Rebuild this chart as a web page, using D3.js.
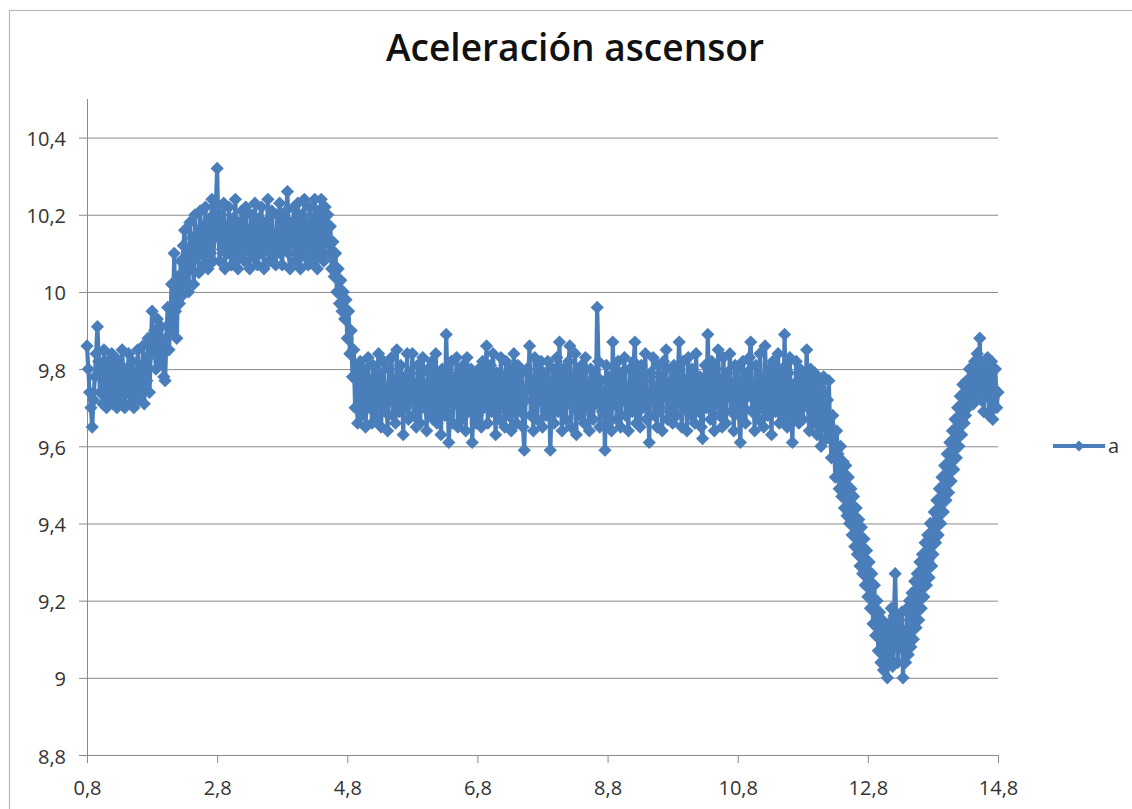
<!DOCTYPE html>
<html>
<head>
<meta charset="utf-8">
<script src="https://cdn.jsdelivr.net/npm/d3@7"></script>
<style>
  html, body { margin: 0; padding: 0; background: #fff; }
  svg { display: block; }
  text { font-family: "Open Sans", "Noto Sans", "DejaVu Sans", sans-serif; }
</style>
</head>
<body>
<svg id="chart" width="1132" height="809"></svg>
<script>
// ---- chart content ----
const chartTitle = "Aceleración ascensor";
const seriesName = "a";
const xTicks = [0.8, 2.8, 4.8, 6.8, 8.8, 10.8, 12.8, 14.8];
const yTicks = [8.8, 9, 9.2, 9.4, 9.6, 9.8, 10, 10.2, 10.4];
const xDomain = [0.8, 14.8];
const yDomain = [8.8, 10.5];

// accelerometer sampling clock (s)
const sampleStart = 0.8;
const samplePeriod = 0.02;

// measured acceleration (m/s²), one row per half second of recording
const accel = [
  // 0.80 – 1.78 s : at rest
  9.86, 9.80, 9.74, 9.70, 9.65, 9.72, 9.78, 9.84, 9.91, 9.82, 9.74, 9.80, 9.71, 9.85, 9.76, 9.70, 9.82, 9.73, 9.79, 9.84, 9.71, 9.77, 9.83, 9.70, 9.75,
  9.81, 9.72, 9.85, 9.78, 9.70, 9.80, 9.74, 9.84, 9.71, 9.77, 9.82, 9.70, 9.79, 9.73, 9.85, 9.72, 9.80, 9.75, 9.86, 9.71, 9.82, 9.77, 9.88, 9.74, 9.84,
  // 1.80 – 2.78 s : starting upwards
  9.95, 9.84, 9.90, 9.80, 9.93, 9.86, 9.82, 9.91, 9.84, 9.78, 9.77, 9.88, 9.96, 9.85, 9.92, 10.02, 9.90, 10.10, 9.95, 9.88, 10.04, 9.97, 10.08, 9.99, 10.12,
  10.16, 10.02, 10.10, 10.00, 10.18, 10.06, 10.14, 10.02, 10.20, 10.09, 10.15, 10.05, 10.21, 10.10, 10.17, 10.07, 10.22, 10.12, 10.06, 10.19, 10.10, 10.24, 10.08, 10.16, 10.22,
  // 2.80 – 3.78 s
  10.32, 10.14, 10.08, 10.20, 10.11, 10.23, 10.06, 10.17, 10.10, 10.22, 10.13, 10.07, 10.19, 10.09, 10.24, 10.12, 10.06, 10.18, 10.10, 10.21, 10.14, 10.08, 10.22, 10.11, 10.16,
  10.06, 10.20, 10.12, 10.09, 10.23, 10.15, 10.07, 10.19, 10.10, 10.22, 10.13, 10.06, 10.18, 10.11, 10.24, 10.08, 10.16, 10.21, 10.09, 10.14, 10.07, 10.20, 10.12, 10.23, 10.10,
  // 3.80 – 4.78 s
  10.07, 10.19, 10.12, 10.21, 10.26, 10.10, 10.06, 10.18, 10.13, 10.22, 10.08, 10.16, 10.23, 10.10, 10.06, 10.20, 10.12, 10.24, 10.09, 10.17, 10.07, 10.22, 10.11, 10.19, 10.08,
  10.24, 10.13, 10.06, 10.21, 10.10, 10.24, 10.12, 10.08, 10.22, 10.14, 10.20, 10.10, 10.17, 10.06, 10.13, 10.04, 10.10, 10.00, 10.06, 9.97, 10.03, 9.95, 10.00, 9.93, 9.98,
  // 4.80 – 5.78 s : constant speed
  9.88, 9.95, 9.84, 9.90, 9.78, 9.85, 9.70, 9.80, 9.66, 9.76, 9.82, 9.68, 9.74, 9.80, 9.65, 9.72, 9.83, 9.70, 9.77, 9.66, 9.81, 9.73, 9.67, 9.79, 9.84,
  9.71, 9.65, 9.76, 9.82, 9.69, 9.74, 9.64, 9.80, 9.72, 9.83, 9.68, 9.77, 9.66, 9.85, 9.73, 9.69, 9.81, 9.75, 9.63, 9.78, 9.70, 9.84, 9.67, 9.79, 9.72,
  // 5.80 – 6.78 s
  9.84, 9.68, 9.76, 9.65, 9.81, 9.72, 9.66, 9.79, 9.83, 9.70, 9.75, 9.64, 9.80, 9.69, 9.77, 9.82, 9.67, 9.73, 9.84, 9.66, 9.78, 9.71, 9.63, 9.80, 9.74,
  9.68, 9.89, 9.75, 9.61, 9.70, 9.82, 9.66, 9.77, 9.72, 9.83, 9.65, 9.79, 9.70, 9.67, 9.81, 9.74, 9.64, 9.83, 9.69, 9.76, 9.80, 9.61, 9.71, 9.78, 9.66,
  // 6.80 – 7.78 s
  9.68, 9.80, 9.73, 9.65, 9.82, 9.70, 9.77, 9.86, 9.66, 9.74, 9.81, 9.69, 9.84, 9.72, 9.63, 9.79, 9.75, 9.67, 9.83, 9.70, 9.78, 9.65, 9.82, 9.73, 9.68,
  9.80, 9.64, 9.76, 9.84, 9.71, 9.66, 9.81, 9.74, 9.69, 9.79, 9.65, 9.59, 9.72, 9.80, 9.75, 9.86, 9.68, 9.77, 9.64, 9.83, 9.71, 9.67, 9.80, 9.74, 9.82,
  // 7.80 – 8.78 s
  9.65, 9.79, 9.72, 9.68, 9.82, 9.74, 9.59, 9.70, 9.80, 9.66, 9.77, 9.83, 9.69, 9.87, 9.73, 9.64, 9.80, 9.71, 9.67, 9.78, 9.82, 9.86, 9.65, 9.75, 9.70,
  9.84, 9.63, 9.79, 9.72, 9.68, 9.81, 9.74, 9.66, 9.83, 9.70, 9.76, 9.64, 9.80, 9.73, 9.67, 9.78, 9.71, 9.96, 9.82, 9.65, 9.77, 9.69, 9.74, 9.59, 9.81,
  // 8.80 – 9.78 s
  9.66, 9.78, 9.70, 9.64, 9.87, 9.73, 9.80, 9.67, 9.82, 9.71, 9.65, 9.79, 9.75, 9.83, 9.68, 9.72, 9.64, 9.80, 9.76, 9.69, 9.82, 9.87, 9.66, 9.74, 9.79,
  9.65, 9.81, 9.70, 9.77, 9.84, 9.67, 9.73, 9.61, 9.79, 9.72, 9.83, 9.68, 9.75, 9.65, 9.81, 9.70, 9.78, 9.64, 9.82, 9.73, 9.85, 9.67, 9.76, 9.69, 9.80,
  // 9.80 – 10.78 s
  9.66, 9.81, 9.72, 9.68, 9.79, 9.87, 9.74, 9.65, 9.82, 9.70, 9.77, 9.64, 9.83, 9.71, 9.68, 9.80, 9.75, 9.66, 9.84, 9.72, 9.69, 9.78, 9.65, 9.62, 9.76,
  9.81, 9.70, 9.89, 9.73, 9.67, 9.82, 9.74, 9.64, 9.80, 9.71, 9.85, 9.68, 9.77, 9.65, 9.83, 9.72, 9.66, 9.79, 9.74, 9.84, 9.69, 9.76, 9.64, 9.81, 9.71,
  // 10.80 – 11.78 s
  9.80, 9.68, 9.61, 9.75, 9.82, 9.70, 9.66, 9.79, 9.73, 9.83, 9.87, 9.69, 9.76, 9.64, 9.81, 9.72, 9.67, 9.84, 9.70, 9.77, 9.65, 9.86, 9.74, 9.68, 9.80,
  9.71, 9.63, 9.82, 9.75, 9.69, 9.78, 9.84, 9.66, 9.73, 9.80, 9.67, 9.89, 9.72, 9.65, 9.79, 9.83, 9.70, 9.61, 9.76, 9.68, 9.82, 9.74, 9.66, 9.80, 9.71,
  // 11.80 – 12.78 s : braking
  9.67, 9.78, 9.72, 9.85, 9.70, 9.64, 9.80, 9.74, 9.66, 9.79, 9.71, 9.63, 9.77, 9.68, 9.60, 9.74, 9.78, 9.66, 9.62, 9.72, 9.77, 9.64, 9.57, 9.68, 9.61,
  9.52, 9.64, 9.58, 9.49, 9.60, 9.47, 9.56, 9.44, 9.55, 9.42, 9.52, 9.40, 9.49, 9.37, 9.47, 9.34, 9.44, 9.32, 9.41, 9.29, 9.39, 9.27, 9.36, 9.24, 9.33,
  // 12.80 – 13.78 s
  9.21, 9.30, 9.18, 9.27, 9.14, 9.24, 9.11, 9.20, 9.07, 9.17, 9.04, 9.15, 9.02, 9.12, 9.06, 9.00, 9.14, 9.05, 9.18, 9.03, 9.16, 9.27, 9.10, 9.04, 9.15,
  9.08, 9.17, 9.00, 9.12, 9.04, 9.18, 9.06, 9.20, 9.08, 9.22, 9.10, 9.25, 9.13, 9.27, 9.15, 9.30, 9.18, 9.32, 9.21, 9.35, 9.24, 9.37, 9.26, 9.40, 9.29,
  // 13.80 – 14.78 s : stopping
  9.32, 9.43, 9.35, 9.46, 9.37, 9.49, 9.40, 9.52, 9.43, 9.55, 9.46, 9.58, 9.48, 9.61, 9.51, 9.64, 9.54, 9.67, 9.57, 9.70, 9.60, 9.73, 9.63, 9.76, 9.66,
  9.68, 9.77, 9.70, 9.80, 9.72, 9.78, 9.71, 9.82, 9.74, 9.84, 9.76, 9.88, 9.72, 9.81, 9.69, 9.79, 9.73, 9.83, 9.68, 9.77, 9.82, 9.67, 9.75, 9.80, 9.70,
  // 14.80 s
  9.74
];

// ---- drawing ----
const W = 1132, H = 809;
const plot = { left: 87, right: 998, top: 99, bottom: 755 };
const seriesColor = "#4a7ebb";
const gridColor = "#8a8a8a";
const labelColor = "#333333";

const svg = d3.select("#chart");
const esLocale = d3.formatLocale({ decimal: ",", thousands: ".", grouping: [3], currency: ["", " €"] });
const fmt = esLocale.format("~g");

const x = d3.scaleLinear().domain(xDomain).range([plot.left, plot.right]);
const y = d3.scaleLinear().domain(yDomain).range([plot.bottom, plot.top]);

// chart-area frame (top and left edges are visible)
svg.append("rect")
  .attr("x", 9.5).attr("y", 10.5)
  .attr("width", W + 20).attr("height", H + 20)
  .attr("fill", "none").attr("stroke", "#b9b9b9").attr("stroke-width", 1.2);

// horizontal gridlines
svg.append("g")
  .attr("class", "grid")
  .attr("transform", `translate(${plot.left},0)`)
  .call(d3.axisLeft(y).tickValues(yTicks.filter(v => v > yDomain[0]))
        .tickSize(-(plot.right - plot.left)).tickFormat(""))
  .call(g => g.select(".domain").remove())
  .call(g => g.selectAll(".tick line").attr("stroke", gridColor).attr("stroke-width", 1));

// y axis
const yAxis = svg.append("g")
  .attr("transform", `translate(${plot.left},0)`)
  .call(d3.axisLeft(y).tickValues(yTicks).tickSize(8).tickPadding(13).tickFormat(fmt));
yAxis.select(".domain").attr("stroke", gridColor).attr("d", `M0.5,${plot.top}V${plot.bottom}`);
yAxis.selectAll(".tick line").attr("stroke", gridColor);
yAxis.selectAll(".tick text")
  .attr("fill", labelColor).attr("font-size", 20).attr("dy", "0.4em");

// x axis
const xAxis = svg.append("g")
  .attr("transform", `translate(0,${plot.bottom})`)
  .call(d3.axisBottom(x).tickValues(xTicks).tickSize(8).tickPadding(18).tickFormat(fmt));
xAxis.select(".domain").attr("stroke", gridColor).attr("d", `M${plot.left},0.5H${plot.right}`);
xAxis.selectAll(".tick line").attr("stroke", gridColor);
xAxis.selectAll(".tick text").attr("fill", labelColor).attr("font-size", 20);

// series: line with diamond markers
const points = accel.map((v, i) => ({ t: sampleStart + i * samplePeriod, v }));
const line = d3.line().x(d => x(d.t)).y(d => y(d.v));
const diamond = d3.symbol().type(d3.symbolSquare).size(88);

const series = svg.append("g").attr("class", "series");
series.append("path")
  .datum(points)
  .attr("d", line)
  .attr("fill", "none")
  .attr("stroke", seriesColor)
  .attr("stroke-width", 4.2)
  .attr("stroke-linejoin", "round");
series.selectAll("path.marker")
  .data(points)
  .join("path")
  .attr("class", "marker")
  .attr("d", diamond)
  .attr("transform", d => `translate(${x(d.t)},${y(d.v)}) rotate(45)`)
  .attr("fill", seriesColor);

// title
const title = svg.append("text")
  .attr("x", 575).attr("y", 61)
  .attr("text-anchor", "middle")
  .attr("font-weight", 600)
  .attr("font-size", 30)
  .attr("fill", "#111")
  .text(chartTitle);
const tw = title.node().getComputedTextLength();
if (tw > 0) title.attr("font-size", 30 * 378 / tw);

// legend
const legend = svg.append("g").attr("transform", "translate(1053,446)");
legend.append("line")
  .attr("x1", 0).attr("x2", 52).attr("y1", 0).attr("y2", 0)
  .attr("stroke", seriesColor).attr("stroke-width", 4.2);
legend.append("path")
  .attr("d", d3.symbol().type(d3.symbolSquare).size(60))
  .attr("transform", "translate(26,0) rotate(45)")
  .attr("fill", seriesColor);
legend.append("text")
  .attr("x", 55).attr("y", 7)
  .attr("font-size", 20)
  .attr("fill", labelColor)
  .text(seriesName);
</script>
</body>
</html>
